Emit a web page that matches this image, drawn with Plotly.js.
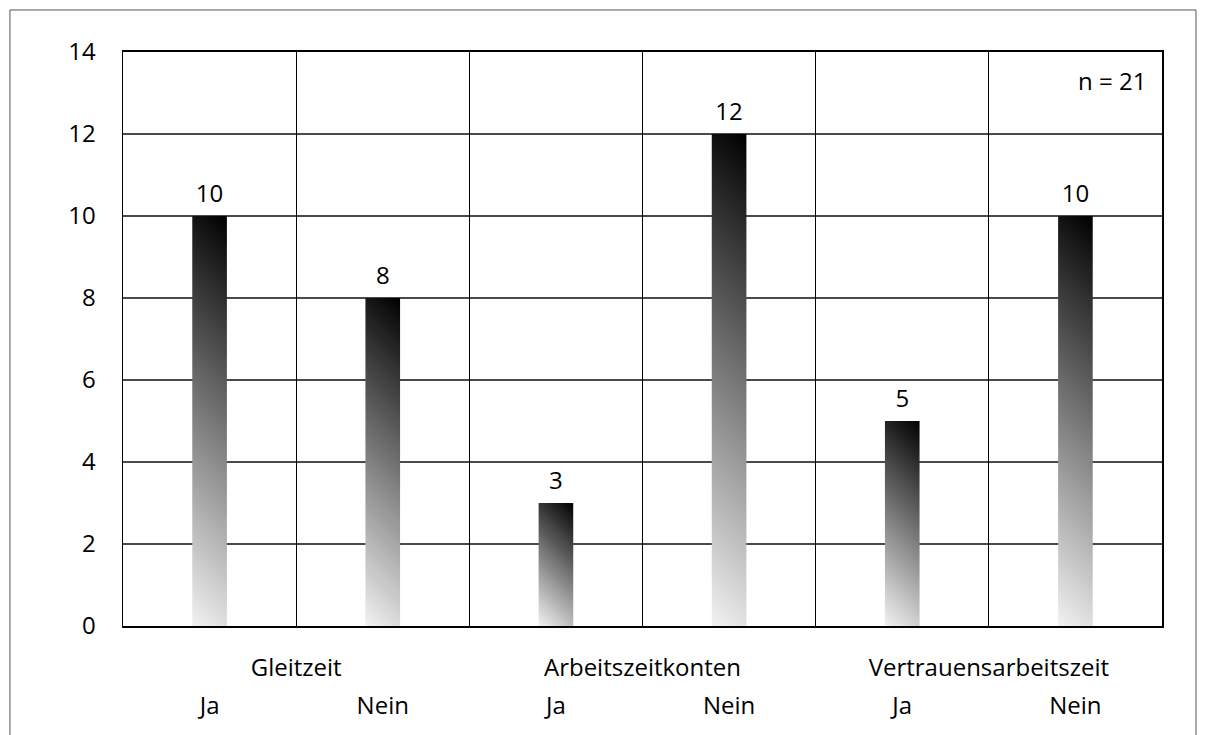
<!DOCTYPE html>
<html>
<head>
<meta charset="utf-8">
<script src="https://cdn.plot.ly/plotly-3.0.1.min.js"></script>
<style>
  html, body { margin: 0; padding: 0; background: #fff; }
  #chart { width: 1205px; height: 735px; }
</style>
</head>
<body>
<div id="chart"></div>
<script>
// Working-time models: answers "Ja" / "Nein" per model
const groups = ['Gleitzeit', 'Arbeitszeitkonten', 'Vertrauensarbeitszeit'];
const answers = ['Ja', 'Nein'];
const counts = [10, 8, 3, 12, 5, 10];
const sampleNote = 'n = 21';
const yTicks = [0, 2, 4, 6, 8, 10, 12, 14];

// bar i sits in the middle of slot [i, i+1]
const barPos = counts.map((_, i) => i + 0.5);
const barLabels = counts.map((_, i) => answers[i % answers.length]);
// slot boundaries carry the vertical grid; every second one carries a group name
const slotEdges = counts.slice(1).map((_, i) => i + 1);
const edgeLabels = slotEdges.map(e => (e % 2 === 1 ? groups[(e - 1) / 2] : ''));

const FONT = 'Open Sans, Noto Sans, sans-serif';
const FS = 24;

const traces = [
  {
    type: 'bar',
    x: barPos,
    y: counts,
    width: 0.2,
    marker: { color: '#555', line: { width: 0 } },
    hoverinfo: 'skip',
    xaxis: 'x',
    yaxis: 'y'
  },
  {
    // value labels; the invisible marker keeps a small gap above each bar
    type: 'scatter',
    mode: 'markers+text',
    x: barPos,
    y: counts,
    marker: { size: 12, opacity: 0 },
    text: counts.map(String),
    textposition: 'top center',
    textfont: { family: FONT, size: FS, color: '#000' },
    hoverinfo: 'skip',
    xaxis: 'x2',
    yaxis: 'y'
  }
];

const layout = {
  width: 1205,
  height: 735,
  margin: { l: 123, r: 43, t: 52, b: 109 },
  paper_bgcolor: '#fff',
  plot_bgcolor: '#fff',
  showlegend: false,
  font: { family: FONT, size: FS, color: '#000' },
  xaxis: {
    range: [0, counts.length],
    tickmode: 'array',
    tickvals: barPos,
    ticktext: barLabels,
    ticks: '',
    ticklabelstandoff: 57,
    showgrid: false,
    zeroline: false,
    showline: true,
    mirror: true,
    linecolor: '#000',
    linewidth: 2,
    fixedrange: true
  },
  xaxis2: {
    overlaying: 'x',
    anchor: 'y',
    side: 'bottom',
    range: [0, counts.length],
    tickmode: 'array',
    tickvals: slotEdges,
    ticktext: edgeLabels,
    ticks: '',
    ticklabelstandoff: 25,
    showgrid: true,
    gridcolor: '#000',
    gridwidth: 1.3,
    zeroline: false,
    showline: false,
    fixedrange: true
  },
  yaxis: {
    range: [0, 14],
    tickmode: 'array',
    tickvals: yTicks,
    ticks: '',
    ticklabelstandoff: 21,
    showgrid: true,
    gridcolor: '#4a4a4a',
    gridwidth: 1.3,
    zeroline: false,
    showline: true,
    mirror: true,
    linecolor: '#000',
    linewidth: 1.5,
    fixedrange: true
  },
  annotations: [
    {
      xref: 'paper', yref: 'paper',
      x: 0.987, y: 0.95,
      xanchor: 'right', yanchor: 'middle',
      text: sampleNote,
      showarrow: false,
      font: { family: FONT, size: FS, color: '#000' }
    }
  ],
  shapes: [
    {
      type: 'rect', xref: 'paper', yref: 'paper',
      x0: -0.1088, x1: 1.0327, y0: -0.25, y1: 1.0732,
      line: { color: '#555', width: 1 },
      fillcolor: 'rgba(0,0,0,0)',
      layer: 'below'
    }
  ]
};

Plotly.newPlot('chart', traces, layout, { displayModeBar: false, staticPlot: true }).then(gd => {
  // shade each bar from light grey (bottom left) to black (top right)
  const NS = 'http://www.w3.org/2000/svg';
  const svg = gd.querySelector('svg.main-svg');
  let defs = svg.querySelector('defs');
  if (!defs) {
    defs = document.createElementNS(NS, 'defs');
    svg.insertBefore(defs, svg.firstChild);
  }
  gd.querySelectorAll('.barlayer .point path').forEach((p, i) => {
    const b = p.getBBox();
    const half = (b.width + b.height) / 2;
    const g = document.createElementNS(NS, 'linearGradient');
    g.setAttribute('id', 'barShade' + i);
    g.setAttribute('gradientUnits', 'userSpaceOnUse');
    g.setAttribute('x1', b.x);
    g.setAttribute('y1', b.y + b.height);
    g.setAttribute('x2', b.x + half);
    g.setAttribute('y2', b.y + b.height - half);
    [['0', '#f2f2f2'], ['1', '#000000']].forEach(([o, c]) => {
      const s = document.createElementNS(NS, 'stop');
      s.setAttribute('offset', o);
      s.setAttribute('stop-color', c);
      g.appendChild(s);
    });
    defs.appendChild(g);
    p.style.fill = 'url(#barShade' + i + ')';
  });
});
</script>
</body>
</html>
